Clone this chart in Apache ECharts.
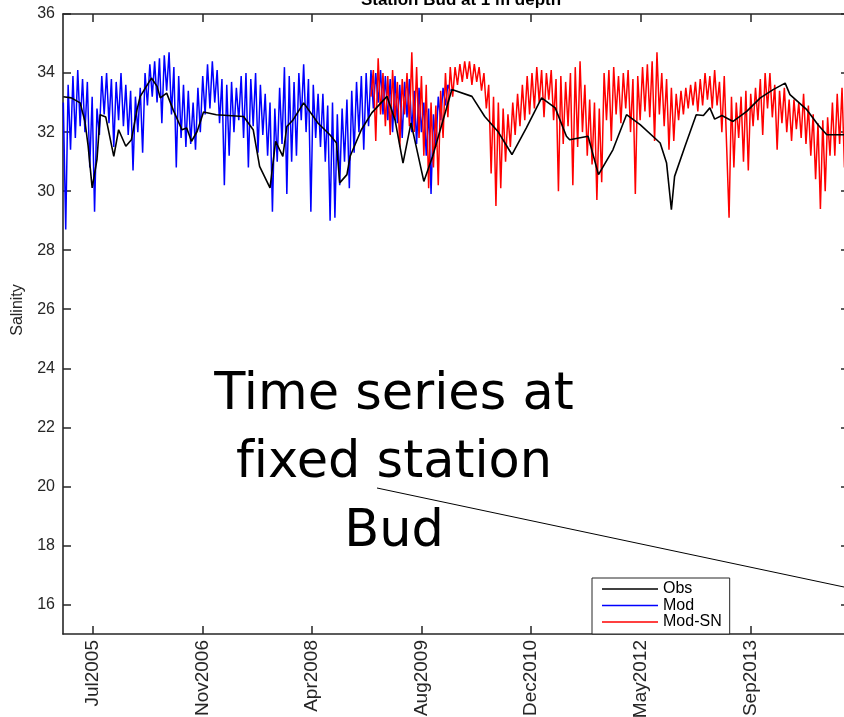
<!DOCTYPE html>
<html>
<head>
<meta charset="utf-8">
<script src="https://cdn.jsdelivr.net/npm/echarts@6/dist/echarts.min.js"></script>
<style>
html,body{margin:0;padding:0;background:#fff;}
#chart{width:844px;height:717px;}
</style>
</head>
<body>
<div id="chart"></div>
<script>
// x values are decimal years
const xRange = [2005.146, 2014.957];
const yRange = [15, 36];
const tickYears = [2005.515, 2006.885, 2008.254, 2009.622, 2010.990, 2012.361, 2013.729];
const tickLabels = ['Jul2005', 'Nov2006', 'Apr2008', 'Aug2009', 'Dec2010', 'May2012', 'Sep2013'];
const yTicks = [16, 18, 20, 22, 24, 26, 28, 30, 32, 34, 36];
const seriesNames = ['Obs', 'Mod', 'Mod-SN'];

const obsData = [
  [2005.15,33.2],[2005.25,33.16],[2005.36,32.99],[2005.42,32.36],[2005.46,31.52],[2005.51,30.11],
  [2005.57,31.07],[2005.61,32.59],[2005.68,32.51],[2005.78,31.18],[2005.84,32.08],[2005.93,31.52],
  [2006.00,31.74],[2006.07,32.76],[2006.11,33.21],[2006.25,33.83],[2006.32,33.55],[2006.36,33.16],
  [2006.44,33.32],[2006.52,32.76],[2006.63,32.08],[2006.69,32.14],[2006.75,31.69],[2006.82,32.02],
  [2006.90,32.68],[2007.06,32.59],[2007.40,32.53],[2007.52,32.08],[2007.60,30.84],[2007.73,30.11],
  [2007.80,31.69],[2007.89,31.18],[2007.94,32.19],[2008.02,32.42],[2008.15,32.99],[2008.33,32.3],
  [2008.48,31.9],[2008.56,31.63],[2008.60,30.28],[2008.69,30.56],[2008.73,31.18],[2008.87,32.08],
  [2009.00,32.65],[2009.19,33.21],[2009.29,32.42],[2009.39,30.95],[2009.49,32.31],[2009.65,30.33],
  [2009.76,31.18],[2010.00,33.44],[2010.25,33.21],[2010.41,32.53],[2010.58,32.0],[2010.75,31.24],
  [2010.93,32.14],[2011.12,33.16],[2011.29,32.82],[2011.43,31.86],[2011.47,31.74],[2011.70,31.86],
  [2011.83,30.56],[2012.01,31.40],[2012.18,32.59],[2012.35,32.25],[2012.60,31.63],[2012.68,30.95],
  [2012.74,29.37],[2012.78,30.50],[2012.91,31.52],[2013.05,32.59],[2013.14,32.56],[2013.22,32.82],
  [2013.28,32.44],[2013.37,32.56],[2013.51,32.36],[2013.68,32.70],[2013.85,33.16],[2014.01,33.44],
  [2014.16,33.66],[2014.22,33.27],[2014.43,32.76],[2014.57,32.25],[2014.68,31.91],[2014.95,31.91]
];

const modData = [
  [2005.15,33.0],[2005.18,28.7],[2005.21,33.6],[2005.24,31.4],[2005.27,33.9],[2005.30,31.8],
  [2005.33,34.1],[2005.36,32.2],[2005.39,33.8],[2005.42,32.0],[2005.45,33.7],[2005.48,30.8],
  [2005.51,33.2],[2005.54,29.3],[2005.57,32.8],[2005.60,31.9],[2005.63,33.9],[2005.66,32.6],
  [2005.69,34.0],[2005.72,32.3],[2005.75,33.8],[2005.78,31.5],[2005.81,33.7],[2005.84,32.4],
  [2005.87,34.0],[2005.90,32.2],[2005.93,33.6],[2005.96,31.9],[2005.99,33.4],[2006.02,30.7],
  [2006.05,33.2],[2006.08,32.0],[2006.11,33.5],[2006.14,31.3],[2006.17,34.0],[2006.20,32.9],
  [2006.23,34.3],[2006.26,33.2],[2006.29,34.4],[2006.32,33.0],[2006.35,34.5],[2006.38,32.3],
  [2006.41,34.6],[2006.44,33.4],[2006.47,34.7],[2006.50,32.6],[2006.53,34.2],[2006.56,30.8],
  [2006.59,33.9],[2006.62,31.8],[2006.65,33.6],[2006.68,31.5],[2006.71,33.4],[2006.74,31.6],
  [2006.77,33.0],[2006.80,31.4],[2006.83,33.5],[2006.86,32.0],[2006.89,33.9],[2006.92,32.6],
  [2006.95,34.3],[2006.98,32.8],[2007.01,34.4],[2007.04,33.0],[2007.07,34.1],[2007.10,32.3],
  [2007.13,33.8],[2007.16,30.2],[2007.19,33.6],[2007.22,31.2],[2007.25,33.7],[2007.28,32.0],
  [2007.31,33.5],[2007.34,32.4],[2007.37,33.9],[2007.40,31.8],[2007.43,34.0],[2007.46,30.8],
  [2007.49,33.8],[2007.52,32.2],[2007.55,34.0],[2007.58,31.3],[2007.61,33.6],[2007.64,31.9],
  [2007.67,33.3],[2007.70,31.2],[2007.73,33.0],[2007.76,29.3],[2007.79,32.8],[2007.82,31.0],
  [2007.85,33.5],[2007.88,31.6],[2007.91,34.2],[2007.94,29.9],[2007.97,33.9],[2008.00,31.0],
  [2008.03,33.7],[2008.06,31.2],[2008.09,34.0],[2008.12,32.4],[2008.15,34.3],[2008.18,32.0],
  [2008.21,33.8],[2008.24,29.3],[2008.27,33.6],[2008.30,31.8],[2008.33,33.3],[2008.36,31.5],
  [2008.39,33.3],[2008.42,31.0],[2008.45,32.9],[2008.48,29.0],[2008.51,33.0],[2008.54,29.1],
  [2008.57,32.6],[2008.60,30.2],[2008.63,32.8],[2008.66,31.0],[2008.69,33.1],[2008.72,30.1],
  [2008.75,33.4],[2008.78,31.3],[2008.81,33.7],[2008.84,32.0],[2008.87,33.9],[2008.90,31.4],
  [2008.93,34.0],[2008.96,32.2],[2008.99,34.1],[2009.02,32.8],[2009.05,34.0],[2009.08,33.0],
  [2009.11,34.1],[2009.14,32.6],[2009.17,33.9],[2009.20,32.4],[2009.23,33.8],[2009.26,32.0],
  [2009.29,33.9],[2009.32,32.3],[2009.35,33.6],[2009.38,31.8],[2009.41,33.7],[2009.44,32.5],
  [2009.47,33.8],[2009.50,32.0],[2009.53,33.4],[2009.56,31.6],[2009.59,33.5],[2009.62,32.0],
  [2009.65,33.0],[2009.68,31.2],[2009.71,32.8],[2009.74,29.9],[2009.77,32.6],[2009.80,31.5],
  [2009.83,33.2],[2009.86,32.4],[2009.89,33.5],[2009.92,32.9],[2009.95,33.6],[2009.98,33.4]
];

const modSNData = [
  [2008.99,33.2],[2009.02,34.1],[2009.05,31.7],[2009.08,34.5],[2009.11,32.6],[2009.14,34.0],
  [2009.17,32.2],[2009.20,33.9],[2009.23,31.9],[2009.26,34.1],[2009.29,32.4],[2009.32,33.7],
  [2009.35,31.5],[2009.38,33.8],[2009.41,32.6],[2009.44,34.0],[2009.47,32.2],[2009.50,34.7],
  [2009.53,32.0],[2009.56,34.2],[2009.59,31.8],[2009.62,33.9],[2009.65,31.2],[2009.68,33.6],
  [2009.71,30.1],[2009.74,33.0],[2009.77,30.8],[2009.80,32.9],[2009.83,30.2],[2009.86,33.4],
  [2009.89,31.8],[2009.92,34.0],[2009.95,32.5],[2009.98,34.2],[2010.01,33.2],[2010.04,34.2],
  [2010.07,33.6],[2010.10,34.3],[2010.13,33.7],[2010.16,34.4],[2010.19,33.8],[2010.22,34.4],
  [2010.25,33.6],[2010.28,34.3],[2010.31,33.7],[2010.34,34.2],[2010.37,33.4],[2010.40,34.0],
  [2010.43,32.8],[2010.46,33.6],[2010.49,30.6],[2010.52,33.2],[2010.55,29.5],[2010.58,33.0],
  [2010.61,30.1],[2010.64,32.8],[2010.67,31.0],[2010.70,32.6],[2010.73,31.5],[2010.76,33.0],
  [2010.79,31.9],[2010.82,33.3],[2010.85,32.2],[2010.88,33.6],[2010.91,32.4],[2010.94,33.9],
  [2010.97,32.6],[2011.00,34.0],[2011.03,32.8],[2011.06,34.2],[2011.09,33.0],[2011.12,34.1],
  [2011.15,32.5],[2011.18,34.0],[2011.21,33.1],[2011.24,34.1],[2011.27,32.4],[2011.30,33.8],
  [2011.33,30.0],[2011.36,33.9],[2011.39,31.6],[2011.42,33.7],[2011.45,32.2],[2011.48,34.0],
  [2011.51,30.2],[2011.54,34.2],[2011.57,31.5],[2011.60,34.4],[2011.63,32.0],[2011.66,33.6],
  [2011.69,31.2],[2011.72,33.1],[2011.75,30.9],[2011.78,33.0],[2011.81,29.7],[2011.84,32.8],
  [2011.87,30.3],[2011.90,34.0],[2011.93,32.4],[2011.96,34.1],[2011.99,31.7],[2012.02,34.2],
  [2012.05,32.6],[2012.08,33.9],[2012.11,32.3],[2012.14,34.0],[2012.17,32.8],[2012.20,34.1],
  [2012.23,32.0],[2012.26,33.8],[2012.29,29.9],[2012.32,33.9],[2012.35,32.4],[2012.38,34.2],
  [2012.41,32.7],[2012.44,34.3],[2012.47,32.5],[2012.50,34.4],[2012.53,31.7],[2012.56,34.7],
  [2012.59,32.6],[2012.62,34.0],[2012.65,32.2],[2012.68,33.8],[2012.71,31.4],[2012.74,33.5],
  [2012.77,31.7],[2012.80,33.3],[2012.83,32.4],[2012.86,33.4],[2012.89,32.6],[2012.92,33.5],
  [2012.95,32.8],[2012.98,33.6],[2013.01,32.9],[2013.04,33.7],[2013.07,32.7],[2013.10,33.8],
  [2013.13,32.9],[2013.16,34.0],[2013.19,33.1],[2013.22,33.9],[2013.25,32.8],[2013.28,34.1],
  [2013.31,32.9],[2013.34,33.7],[2013.37,32.0],[2013.40,33.9],[2013.43,31.5],[2013.46,29.1],
  [2013.49,33.2],[2013.52,30.8],[2013.55,33.0],[2013.58,31.8],[2013.61,33.2],[2013.64,31.0],
  [2013.67,33.4],[2013.70,30.7],[2013.73,33.3],[2013.76,32.2],[2013.79,33.5],[2013.82,32.4],
  [2013.85,33.8],[2013.88,31.9],[2013.91,34.0],[2013.94,32.8],[2013.97,34.0],[2014.00,32.5],
  [2014.03,33.6],[2014.06,31.4],[2014.09,33.4],[2014.12,32.3],[2014.15,33.5],[2014.18,32.0],
  [2014.21,33.1],[2014.24,31.7],[2014.27,33.1],[2014.30,32.1],[2014.33,33.0],[2014.36,31.8],
  [2014.39,33.3],[2014.42,31.6],[2014.45,32.9],[2014.48,31.2],[2014.51,32.6],[2014.54,30.4],
  [2014.57,32.3],[2014.60,29.4],[2014.63,32.4],[2014.66,30.0],[2014.69,32.5],[2014.72,31.2],
  [2014.75,33.0],[2014.78,31.2],[2014.81,33.3],[2014.84,31.6],[2014.87,33.5],[2014.90,30.8],
  [2014.93,32.2],[2014.96,31.5]
];

const axisColor = '#262626';
const labelFont = '"Liberation Sans", Arial, sans-serif';
const lineIcon = 'path://M0,0 L56,0 L56,1.6 L0,1.6 Z';

function xLabel(v) {
  for (let i = 0; i < tickYears.length; i++) {
    if (Math.abs(tickYears[i] - v) < 1e-6) return tickLabels[i];
  }
  return '';
}

const chart = echarts.init(document.getElementById('chart'), null, {renderer: 'canvas'});

const baseX = {
  type: 'value', min: xRange[0], max: xRange[1],
  splitLine: {show: false},
  axisLine: {show: true, onZero: false, lineStyle: {color: axisColor, width: 1.6}},
  axisTick: {show: true, inside: true, length: 8, customValues: tickYears, lineStyle: {color: axisColor, width: 1.5}}
};
const baseY = {
  type: 'value', min: yRange[0], max: yRange[1],
  splitLine: {show: false},
  axisLine: {show: true, onZero: false, lineStyle: {color: axisColor, width: 1.6}},
  axisTick: {show: true, inside: true, length: 8, customValues: yTicks, lineStyle: {color: axisColor, width: 1.5}}
};

chart.setOption({
  animation: false,
  backgroundColor: '#ffffff',
  title: {
    text: 'Station Bud at 1 m depth',
    left: 456, top: -13, textAlign: 'center',
    textStyle: {fontFamily: labelFont, fontWeight: 'bold', fontSize: 17, color: '#000'}
  },
  grid: {left: 63, top: 14, width: 786, height: 620, containLabel: false, outerBoundsMode: 'none'},
  xAxis: [
    Object.assign({}, baseX, {
      position: 'bottom',
      axisLabel: {show: true, customValues: tickYears, formatter: xLabel, rotate: 90, margin: 6,
        fontFamily: labelFont, fontSize: 19, color: axisColor}
    }),
    Object.assign({}, baseX, {position: 'top', axisLabel: {show: false}})
  ],
  yAxis: [
    Object.assign({}, baseY, {
      position: 'left',
      axisLabel: {show: true, customValues: yTicks, margin: 8, fontFamily: labelFont, fontSize: 16, color: axisColor}
    }),
    Object.assign({}, baseY, {position: 'right', axisLabel: {show: false}})
  ],
  legend: {
    data: seriesNames.map(function (n) { return {name: n, icon: lineIcon}; }),
    orient: 'vertical',
    left: 592, top: 578,
    padding: [3, 8, 4, 10],
    itemGap: 0.5,
    itemWidth: 56, itemHeight: 16,
    backgroundColor: '#fff',
    borderColor: axisColor, borderWidth: 1, borderRadius: 0,
    textStyle: {fontFamily: labelFont, fontSize: 16, color: '#000'}
  },
  series: [
    {name: seriesNames[1], type: 'line', data: modData, symbol: 'none', xAxisIndex: 0, yAxisIndex: 0,
      color: '#0000ff', lineStyle: {color: '#0000ff', width: 1.5}},
    {name: seriesNames[2], type: 'line', data: modSNData, symbol: 'none', xAxisIndex: 0, yAxisIndex: 0,
      color: '#ff0000', lineStyle: {color: '#ff0000', width: 1.5}},
    {name: seriesNames[0], type: 'line', data: obsData, symbol: 'none', xAxisIndex: 0, yAxisIndex: 0,
      color: '#000000', lineStyle: {color: '#000000', width: 1.6}}
  ],
  graphic: [
    {type: 'text', x: 18, y: 310, rotation: Math.PI / 2,
      style: {text: 'Salinity', font: '16px "Liberation Sans", Arial, sans-serif', fill: axisColor, align: 'center', verticalAlign: 'middle'}},
    {type: 'text', x: 394, y: 396, z: 100,
      style: {text: 'Time series at', font: '51px "DejaVu Sans"', fill: '#000', align: 'center', verticalAlign: 'middle'}},
    {type: 'text', x: 394, y: 464, z: 100,
      style: {text: 'f\u200Cixed station', font: '51px "DejaVu Sans"', fill: '#000', align: 'center', verticalAlign: 'middle'}},
    {type: 'text', x: 394, y: 533, z: 100,
      style: {text: 'Bud', font: '51px "DejaVu Sans"', fill: '#000', align: 'center', verticalAlign: 'middle'}},
    {type: 'line', z: 100, shape: {x1: 377, y1: 488, x2: 844, y2: 587}, style: {stroke: '#000', lineWidth: 1}}
  ]
});
</script>
</body>
</html>
